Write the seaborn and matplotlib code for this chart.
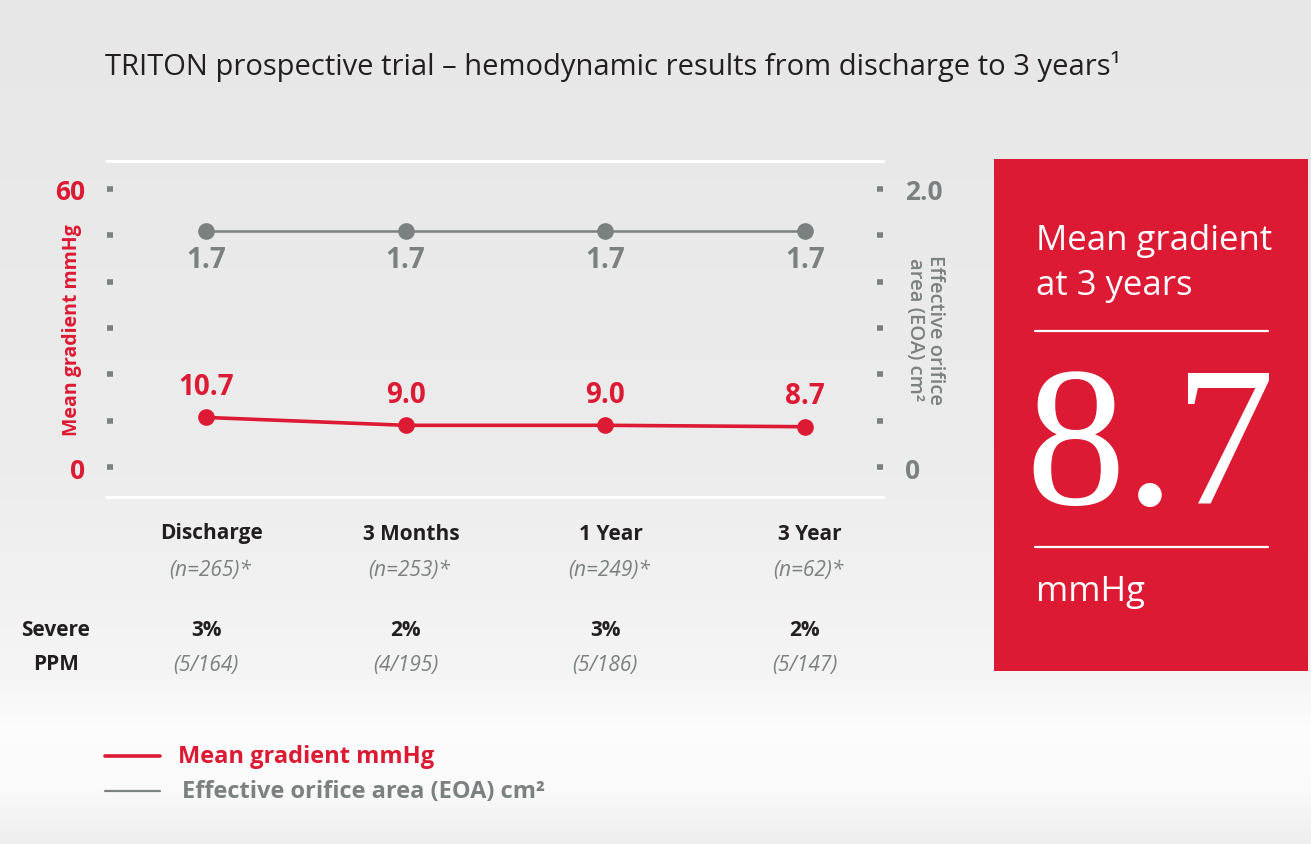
import numpy as np
import pandas as pd
import seaborn as sns
import matplotlib.pyplot as plt
from matplotlib.patches import Rectangle
from matplotlib.lines import Line2D

# data
timepoints = ["Discharge", "3 Months", "1 Year", "3 Year"]
n_labels = ["(n=265)*", "(n=253)*", "(n=249)*", "(n=62)*"]
mean_gradient = [10.7, 9.0, 9.0, 8.7]
eoa = [1.7, 1.7, 1.7, 1.7]
ppm_pct = ["3%", "2%", "3%", "2%"]
ppm_counts = ["(5/164)", "(4/195)", "(5/186)", "(5/147)"]
left_ticks = [0, 10, 20, 30, 40, 50, 60]
right_ticks = [0, 1 / 3, 2 / 3, 1.0, 4 / 3, 5 / 3, 2.0]
headline_value = "8.7"

RED = "#dc1a33"
GRAY = "#7b8080"
DARK = "#231f20"
W, H = 1311, 845

sns.set_theme(style="white")
plt.rcParams["font.family"] = ["Open Sans", "DejaVu Sans"]


def fx(x):
    return x / W


def fy(y):
    return 1 - y / H


fig = plt.figure(figsize=(W / 100, H / 100), dpi=100)

# background gradient
bg = fig.add_axes([0, 0, 1, 1], zorder=-10)
rows = np.arange(H)
shade = np.interp(rows, [0, 450, 680, 730, 790, 845], [231, 236, 245, 253, 250, 238])
bg.imshow(np.repeat(shade[:, None], 4, axis=1)[:, :, None].repeat(3, axis=2) / 255,
          aspect="auto", extent=[0, 1, 0, 1])
bg.set_axis_off()

df = pd.DataFrame({"pos": range(len(timepoints)), "gradient": mean_gradient, "eoa": eoa})

# main axes: x 107..883 px, y 162..498 px
ax = fig.add_axes([fx(107), fy(498), fx(883) - fx(107), fy(162) - fy(498)])
ax.set_facecolor("none")
ax2 = ax.twinx()

sns.lineplot(data=df, x="pos", y="eoa", ax=ax2, color=GRAY, lw=1.8,
             marker="o", markersize=12, markeredgewidth=0)
sns.lineplot(data=df, x="pos", y="gradient", ax=ax, color=RED, lw=2.6,
             marker="o", markersize=12, markeredgewidth=0, zorder=5)

ax.set_xlim(-0.496, 3.391)
ax.set_ylim(-6.47, 66.04)
ax2.set_ylim(-0.2158, 2.2014)

ax.set_yticks(left_ticks)
ax.set_yticklabels(["0", "", "", "", "", "", "60"])
ax2.set_yticks(right_ticks)
ax2.set_yticklabels(["0", "", "", "", "", "", "2.0"])
ax.set_xticks([])
ax.set_xlabel("")
ax2.set_xlabel("")
ax.tick_params(axis="y", direction="in", length=4, width=4, color=GRAY, pad=16,
               labelcolor=RED, labelsize=19, left=True)
ax2.tick_params(axis="y", direction="in", length=4, width=4, color=GRAY, pad=16,
                labelcolor=GRAY, labelsize=19, right=True)
for lab in ax.get_yticklabels() + ax2.get_yticklabels():
    lab.set_fontweight("bold")

for a in (ax, ax2):
    for side in ("left", "right"):
        a.spines[side].set_visible(False)
    for side in ("top", "bottom"):
        a.spines[side].set_color("white")
        a.spines[side].set_linewidth(2.2)

ax.set_ylabel("Mean gradient mmHg", color=RED, fontsize=14, fontweight="bold")
ax2.set_ylabel("Effective orifice\narea (EOA) cm²", color=GRAY, fontsize=14.5,
               fontweight="semibold", rotation=-90, linespacing=1.0)
ax.yaxis.set_label_coords(-0.032, 0.5)
ax2.yaxis.set_label_coords(1.08, 0.5)

# point labels
for i, (g, e) in enumerate(zip(mean_gradient, eoa)):
    ax.annotate(f"{g:.1f}", (i, g), xytext=(0, 12), textcoords="offset points",
                ha="center", va="bottom", color=RED, fontsize=20, fontweight="bold")
    ax2.annotate(f"{e:.1f}", (i, e), xytext=(0, -10), textcoords="offset points",
                 ha="center", va="top", color=GRAY, fontsize=20, fontweight="bold")

# category rows under the chart
for i, (name, n, pct, cnt) in enumerate(zip(timepoints, n_labels, ppm_pct, ppm_counts)):
    xp = ax.transData.transform((i, 0))[0] / fig.dpi / fig.get_figwidth()
    fig.text(xp + 0.004, fy(534), name, ha="center", va="center", color=DARK,
             fontsize=15, fontweight="bold")
    fig.text(xp + 0.003, fy(571), n, ha="center", va="center", color=GRAY,
             fontsize=15, style="italic")
    fig.text(xp, fy(630), pct, ha="center", va="center", color=DARK,
             fontsize=15, fontweight="bold")
    fig.text(xp, fy(665), cnt, ha="center", va="center", color=GRAY,
             fontsize=15, style="italic")
fig.text(fx(56), fy(630), "Severe", ha="center", va="center", color=DARK,
         fontsize=15, fontweight="bold")
fig.text(fx(56), fy(665), "PPM", ha="center", va="center", color=DARK,
         fontsize=15, fontweight="bold")

# title
fig.text(fx(105), fy(66), "TRITON prospective trial – hemodynamic results from discharge to 3 years¹",
         ha="left", va="center", color=DARK, fontsize=21)

# legend
fig.add_artist(Line2D([fx(105), fx(160)], [fy(757), fy(757)], color=RED, lw=2.6))
fig.add_artist(Line2D([fx(105), fx(160)], [fy(792), fy(792)], color=GRAY, lw=1.6))
fig.text(fx(178), fy(757), "Mean gradient mmHg", ha="left", va="center", color=RED,
         fontsize=17, fontweight="bold")
fig.text(fx(182), fy(792), "Effective orifice area (EOA) cm²", ha="left", va="center",
         color=GRAY, fontsize=17, fontweight="bold")

# red callout box
fig.add_artist(Rectangle((fx(994), fy(672)), fx(1308) - fx(994), fy(160) - fy(672),
                         transform=fig.transFigure, facecolor=RED, edgecolor="none"))
fig.text(fx(1036), fy(241), "Mean gradient", ha="left", va="center", color="white", fontsize=25)
fig.text(fx(1036), fy(286), "at 3 years", ha="left", va="center", color="white", fontsize=25)
fig.add_artist(Line2D([fx(1035), fx(1268)], [fy(332), fy(332)], color="white", lw=1.6))
fig.text(fx(1150), fy(456), headline_value, ha="center", va="center", color="white",
         fontsize=144, family=["Liberation Serif", "DejaVu Serif"])
fig.add_artist(Line2D([fx(1035), fx(1268)], [fy(548), fy(548)], color="white", lw=1.6))
fig.text(fx(1036), fy(592), "mmHg", ha="left", va="center", color="white", fontsize=25)

fig.savefig("out.png", dpi=100)
